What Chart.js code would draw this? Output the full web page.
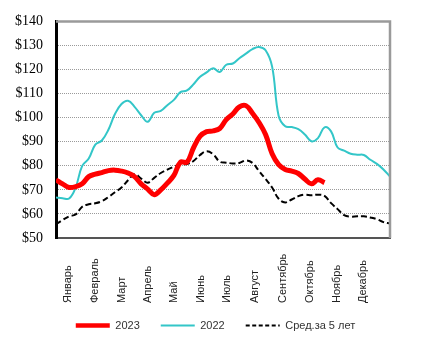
<!DOCTYPE html>
<html lang="ru">
  <head>
    <meta charset="UTF-8" />
    <title>Цены 2023 / 2022 / среднее за 5 лет</title>
    <script src="https://cdn.jsdelivr.net/npm/chart.js"></script>
    <style>
      html, body { margin: 0; padding: 0; background: #fff; }
      #wrap { width: 431px; height: 341px; }
    </style>
  </head>
  <body>
    <div id="wrap"><canvas id="chart"></canvas></div>
    <script>
      // weekly values, index 0..51
      const series2023 = [
        74.2, 72.5, 71, 71.3, 72.5, 75.5, 76.5, 77.2, 78, 78.2, 77.8, 77,
        75.5, 72.5, 70.3, 68, 70, 72.8, 76, 81.5, 81.5, 87.5, 92.3, 94.2,
        94.5, 95.5, 99.2, 101.5, 104.5, 105, 101.8, 98, 93, 85, 80.5, 78.5,
        77.8, 76.8, 74.5, 72.5, 74.2, 73
      ];
      const series2022 = [
        66.8, 66.5, 66.4, 71, 80, 83, 88.8, 90.5, 95, 101.5, 105.7, 107,
        104.5, 101, 98.3, 102, 102.8, 105.2, 107.4, 110.6, 111.3, 113.9, 117, 118.8,
        120.5, 119, 122, 122.5, 124.7, 126.6, 128.5, 129.4, 128, 121.2, 100.7, 96.4,
        96.1, 95.2, 93, 90.2, 91.5, 96, 94.3, 87.6, 86.3, 85, 84.6, 84.5,
        82.5, 80.8, 78.5, 75.5
      ];
      const series5yr = [
        55.6, 57.5, 59, 59.8, 63, 64, 64.4, 65.3, 67, 69, 71, 74,
        76.5, 74.7, 73, 75, 77, 78.4, 79.6, 80.6, 80.7, 82, 84.5, 86,
        84.8, 81.7, 81.3, 81, 81.2, 82.2, 81.2, 77.8, 74.5, 71, 66.3, 64.8,
        66, 67.4, 68, 67.8, 68, 67.5, 64.5, 62, 59.5, 58.9, 59, 59,
        58.5, 57.8, 56.6, 56
      ];
      const months = ["Январь", "Февраль", "Март", "Апрель", "Май", "Июнь",
        "Июль", "Август", "Сентябрь", "Октябрь", "Ноябрь", "Декабрь"];
      const monthWeeks = [1.8, 5.95, 10.1, 14.05, 18.0, 22.1, 26.1, 30.4, 34.7, 38.8, 42.9, 46.9];
      const seriesNames = ["2023", "2022", "Сред.за 5 лет"];

      const toPoints = (arr) => arr.map((v, i) => ({ x: i, y: v }));

      // vertical month names, bottom-aligned
      const monthLabels = {
        id: "monthLabels",
        afterDraw(chart) {
          const ctx = chart.ctx;
          const xs = chart.scales.x;
          ctx.save();
          ctx.font = '11px "Liberation Sans", Arial, sans-serif';
          ctx.fillStyle = "#222";
          ctx.textAlign = "left";
          ctx.textBaseline = "middle";
          monthWeeks.forEach((w, i) => {
            ctx.save();
            ctx.translate(xs.getPixelForValue(w), 303);
            ctx.rotate(-Math.PI / 2);
            ctx.fillText(months[i], 0, 0);
            ctx.restore();
          });
          ctx.restore();
        },
      };

      // grey top and right frame of the plot
      const frame = {
        id: "frame",
        afterDraw(chart) {
          const { ctx, chartArea: a } = chart;
          ctx.save();
          ctx.strokeStyle = "#9a9a9a";
          ctx.lineWidth = 2.5;
          ctx.beginPath();
          ctx.moveTo(a.left, a.top);
          ctx.lineTo(a.right, a.top);
          ctx.lineTo(a.right, a.bottom);
          ctx.stroke();
          ctx.restore();
        },
      };

      new Chart(document.getElementById("chart"), {
        type: "line",
        data: {
          datasets: [
            {
              label: seriesNames[0],
              data: toPoints(series2023),
              borderColor: "#ff0000",
              backgroundColor: "#ff0000",
              borderWidth: 5,
              tension: 0.4,
              pointRadius: 0,
            },
            {
              label: seriesNames[1],
              data: toPoints(series2022),
              borderColor: "#33c6c8",
              backgroundColor: "#33c6c8",
              borderWidth: 2,
              tension: 0.4,
              pointRadius: 0,
            },
            {
              label: seriesNames[2],
              data: toPoints(series5yr),
              borderColor: "#000000",
              backgroundColor: "#000000",
              borderWidth: 2,
              borderDash: [6, 3],
              tension: 0.4,
              pointRadius: 0,
            },
          ],
        },
        options: {
          responsive: true,
          maintainAspectRatio: false,
          animation: false,
          layout: { padding: { top: 10, right: 0, left: 0, bottom: 0 } },
          plugins: {
            title: { display: false },
            tooltip: { enabled: false },
            legend: {
              position: "bottom",
              labels: {
                usePointStyle: true,
                pointStyle: "line",
                pointStyleWidth: 34,
                boxWidth: 34,
                padding: 21,
                color: "#333",
                font: { size: 11, family: '"Liberation Sans", Arial, sans-serif' },
                generateLabels: (chart) => {
                  const items = Chart.defaults.plugins.legend.labels.generateLabels(chart);
                  items[2].lineDash = [4, 2.5];
                  items[0].lineWidth = 4.5;
                  return items;
                },
              },
            },
          },
          scales: {
            x: {
              type: "linear",
              min: 0,
              max: 51,
              ticks: { display: false },
              grid: { display: false },
              border: { color: "#555", width: 2 },
              afterFit: (scale) => { scale.height = 61; },
            },
            y: {
              min: 50,
              max: 140,
              ticks: {
                stepSize: 10,
                padding: 13,
                color: "#000",
                font: { size: 14, family: '"Liberation Serif", "Times New Roman", serif' },
                callback: (v) => "$" + v,
              },
              grid: { color: "#9a9a9a", lineWidth: 1, drawTicks: false },
              border: { color: "#000", width: 3, dash: [1, 1] },
              afterFit: (scale) => { scale.width = 56; },
            },
            // empty right margin
            yRight: {
              position: "right",
              display: true,
              ticks: { display: false },
              grid: { display: false },
              border: { display: false },
              afterFit: (scale) => { scale.width = 41; },
            },
          },
        },
        plugins: [monthLabels, frame],
      });
    </script>
  </body>
</html>
